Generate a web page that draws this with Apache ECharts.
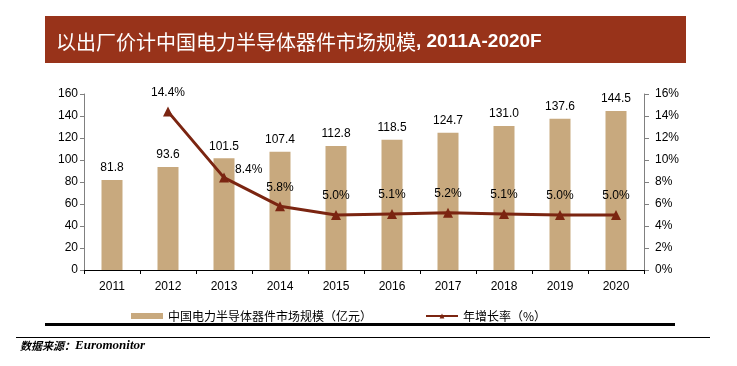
<!DOCTYPE html>
<html><head><meta charset="utf-8">
<script src="https://cdn.jsdelivr.net/npm/echarts@6/dist/echarts.min.js"></script>
<style>html,body{margin:0;padding:0;background:#fff}#c{width:737px;height:366px}</style>
</head><body><div id="c"></div>
<script>
const categories = ['2011','2012','2013','2014','2015','2016','2017','2018','2019','2020'];
const marketSize = [81.8, 93.6, 101.5, 107.4, 112.8, 118.5, 124.7, 131.0, 137.6, 144.5];
const growthRate = [null, 14.4, 8.4, 5.8, 5.0, 5.1, 5.2, 5.1, 5.0, 5.0];
const titleCn = '以出厂价计中国电力半导体器件市场规模';
const titleEn = ', 2011A-2020F';
const barName = '中国电力半导体器件市场规模（亿元）';
const lineName = '年增长率（%）';
const sourceCn = '数据来源：';
const sourceEn = 'Euromonitor';

const chart = echarts.init(document.getElementById('c'));
const lineData = growthRate.map((v, i) => {
  if (v === null) return null;
  const item = { value: v };
  if (i === 2) item.label = { position: 'right', offset: [-2, -8] };
  return item;
});
chart.setOption({
  animation: false,
  textStyle: { fontFamily: 'Liberation Sans, Arial, sans-serif' },
  graphic: [
    { type: 'rect', shape: { x: 45, y: 16, width: 641, height: 47 }, style: { fill: '#98331A' } },
    { type: 'text', x: 56, y: 42, style: {
        text: '{cn|' + titleCn + '}{en|' + titleEn + '}',
        verticalAlign: 'middle',
        rich: {
          cn: { fill: '#fff', fontSize: 20, fontFamily: 'Noto Sans CJK SC, sans-serif' },
          en: { fill: '#fff', fontSize: 19, fontWeight: 'bold', fontFamily: 'Liberation Sans, Arial, sans-serif' }
        } } },
    { type: 'rect', shape: { x: 45, y: 323, width: 630, height: 3 }, style: { fill: '#000' } },
    { type: 'rect', shape: { x: 16, y: 337, width: 694, height: 1 }, style: { fill: '#000' } },
    { type: 'text', x: 20, y: 346, style: {
        text: '{cn|' + sourceCn + '}{en|' + sourceEn + '}',
        verticalAlign: 'middle',
        rich: {
          cn: { fill: '#000', fontSize: 11, fontWeight: 'bold', fontStyle: 'italic', fontFamily: 'Noto Sans CJK SC, sans-serif' },
          en: { fill: '#000', fontSize: 13, fontWeight: 'bold', fontStyle: 'italic', fontFamily: 'Liberation Serif, serif' }
        } } }
  ],
  legend: {
    top: 305, left: 126,
    itemGap: 53,
    itemWidth: 32, itemHeight: 6,
    textStyle: { fontSize: 12, color: '#000', fontFamily: 'Noto Sans CJK SC, sans-serif', padding: [0, 0, 0, 0] },
    data: [
      { name: barName, icon: 'rect' },
      { name: lineName }
    ]
  },
  grid: { left: 84, right: 93, top: 94, bottom: 96 },
  xAxis: {
    type: 'category', data: categories,
    axisLine: { lineStyle: { color: '#000', width: 1 } },
    axisTick: { show: true, alignWithLabel: false, length: 4, lineStyle: { color: '#000' } },
    axisLabel: { color: '#000', fontSize: 12, margin: 11 }
  },
  yAxis: [
    { type: 'value', min: 0, max: 160, interval: 20,
      axisLine: { show: true, lineStyle: { color: '#808080' } },
      axisTick: { show: true, length: 4, lineStyle: { color: '#808080' } },
      splitLine: { show: false },
      axisLabel: { color: '#000', fontSize: 12, margin: 6 } },
    { type: 'value', min: 0, max: 16, interval: 2,
      axisLine: { show: true, lineStyle: { color: '#808080' } },
      axisTick: { show: true, length: 5, lineStyle: { color: '#808080' } },
      splitLine: { show: false },
      axisLabel: { color: '#000', fontSize: 12, margin: 11, formatter: '{value}%' } }
  ],
  series: [
    { name: barName, type: 'bar', data: marketSize, barWidth: 21,
      itemStyle: { color: '#C8A97E' },
      label: { show: true, position: 'top', distance: 6, color: '#000', fontSize: 12, formatter: p => p.value.toFixed(1) } },
    { name: lineName, type: 'line', yAxisIndex: 1, data: lineData,
      symbol: 'triangle', symbolSize: 10,
      lineStyle: { color: '#7B2511', width: 3 },
      itemStyle: { color: '#7B2511' },
      label: { show: true, position: 'top', distance: 8, color: '#000', fontSize: 12, formatter: p => p.value.toFixed(1) + '%' } }
  ]
});
</script></body></html>
